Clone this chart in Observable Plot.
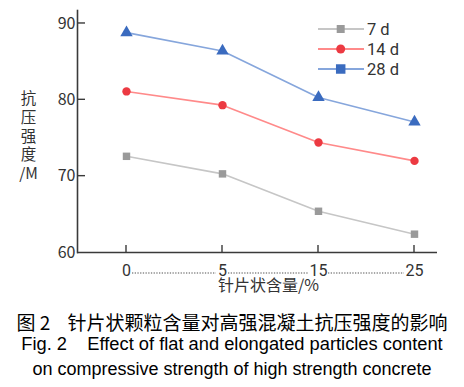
<!DOCTYPE html>
<html><head><meta charset="utf-8">
<script src="https://cdn.jsdelivr.net/npm/d3@7"></script>
<script src="https://cdn.jsdelivr.net/npm/@observablehq/plot@0.6"></script>
<style>
body{margin:0;background:#fff;width:464px;}
.cap{text-align:center;color:#000;white-space:pre;}
#c1{font-family:"Noto Sans CJK SC",sans-serif;font-size:19px;height:22px;line-height:22px;margin-top:11px;}
#c2{font-family:"Liberation Sans",Arial,sans-serif;font-size:18.3px;height:22px;line-height:22px;}
#c3{font-family:"Liberation Sans",Arial,sans-serif;font-size:18px;height:26px;line-height:28px;}
</style></head>
<body>
<div id="chart"></div>
<div class="cap" id="c1">图 2    针片状颗粒含量对高强混凝土抗压强度的影响</div>
<div class="cap" id="c2">Fig. 2    Effect of flat and elongated particles content</div>
<div class="cap" id="c3">on compressive strength of high strength concrete</div>
<script>
const contents = ["0", "5", "15", "25"];
const ages = ["7 d", "14 d", "28 d"];
const s7 = [72.6, 70.3, 65.4, 62.4];
const s14 = [81.1, 79.3, 74.4, 72.0];
const s28 = [88.8, 86.4, 80.3, 77.1];
const yTicks = [60, 70, 80, 90];
const yTitle = "抗\n压\n强\n度\n/M";
const xTitle = "针片状含量/%";

const lineColors = ["#c6c6c6", "#ff8a8a", "#86a6dc"];
const markColors = ["#9a9a9a", "#ec3a42", "#3a6bbf"];
const symbols = ["square", "circle", "triangle"];
const series = [s7, s14, s28];

const rows = [];
series.forEach((s, i) => s.forEach((v, j) => rows.push({age: ages[i], content: contents[j], value: v, i})));

const font = "'Noto Sans CJK SC', sans-serif";
const numFont = "Roboto, 'Noto Sans', sans-serif";
const ink = "#333";

const marks = [];
series.forEach((s, i) => {
  const data = rows.filter(d => d.i === i);
  marks.push(Plot.line(data, {x: "content", y: "value", stroke: lineColors[i], strokeWidth: 1.6}));
  marks.push(Plot.dot(data, {x: "content", y: "value", symbol: () => symbols[i], fill: markColors[i], stroke: "none", r: i === 2 ? 4.6 : 4.2}));
});

const plot = Plot.plot({
  width: 464, height: 300,
  marginLeft: 77, marginRight: 27, marginTop: 10, marginBottom: 48,
  style: {fontFamily: font, color: ink, background: "#fff"},
  x: {type: "point", domain: contents, range: [125.3, 414.3], padding: 0, axis: null, label: null},
  y: {domain: [60, 91.7], axis: null, label: null},
  symbol: {type: "identity"},
  marks: [
    Plot.axisY(yTicks, {tickSize: 0, tickPadding: 2, fontSize: 16, fill: ink, tickFormat: d => d, label: null}),
    Plot.axisX(contents, {tickSize: 0, tickPadding: 12, fontSize: 16, fill: ink, label: null, fontFamily: numFont}),
    Plot.ruleY([60], {stroke: "#3a3a3a", strokeWidth: 1.6}),
    Plot.frame({anchor: "left", stroke: "#3a3a3a", strokeWidth: 1.6}),
    Plot.text([yTitle], {frameAnchor: "left", dx: -49, dy: 4, text: d => d, fontSize: 15.5, lineHeight: 1.22, fill: ink, textAnchor: "middle"}),
    Plot.text([xTitle], {frameAnchor: "bottom", dx: 11, dy: 38, text: d => d, fontSize: 16, fill: ink, textAnchor: "middle"}),
    ...marks
  ]
});
document.getElementById("chart").appendChild(plot);

// custom ticks, leaders and legend using the plot scales
const svg = d3.select(plot);
const xs = plot.scale("x"), ys = plot.scale("y");
const g = svg.append("g").attr("text-anchor", "start");
const axisY0 = ys.apply(60), left = 77;
yTicks.slice(1).forEach(t => {
  g.append("line").attr("x1", left).attr("x2", left + 8).attr("y1", ys.apply(t)).attr("y2", ys.apply(t))
    .attr("stroke", "#3a3a3a").attr("stroke-width", 1.4);
});
contents.forEach(c => {
  g.append("line").attr("x1", xs.apply(c)).attr("x2", xs.apply(c)).attr("y1", axisY0).attr("y2", axisY0 - 7)
    .attr("stroke", "#3a3a3a").attr("stroke-width", 1.4);
});
// dotted tab leaders between tick labels
const halfW = [5, 5, 9, 9];
for (let k = 0; k < contents.length - 1; k++) {
  const xa = xs.apply(contents[k]) + halfW[k] + 1, xb = xs.apply(contents[k + 1]) - halfW[k + 1] - 1;
  g.append("line").attr("x1", xa).attr("x2", xb).attr("y1", axisY0 + 21).attr("y2", axisY0 + 21)
    .attr("stroke", "#8a8a8a").attr("stroke-width", 1.6).attr("stroke-dasharray", "1.3,1.4");
}
// legend
const legSym = ["square", "circle", "square"];
const symMap = {square: d3.symbolSquare, circle: d3.symbolCircle};
ages.forEach((a, i) => {
  const y = 29 + i * 20;
  g.append("line").attr("x1", 318).attr("x2", 364).attr("y1", y).attr("y2", y)
    .attr("stroke", lineColors[i]).attr("stroke-width", 2.2);
  g.append("path").attr("d", d3.symbol(symMap[legSym[i]], i === 2 ? 90 : 64)())
    .attr("transform", `translate(340.7,${y})`).attr("fill", markColors[i]);
  g.append("text").attr("x", 367).attr("y", y).attr("dy", "0.35em").attr("font-size", 16.5)
    .attr("fill", ink).attr("font-family", numFont).attr("text-anchor", "start").text(a);
});
</script>
</body></html>
